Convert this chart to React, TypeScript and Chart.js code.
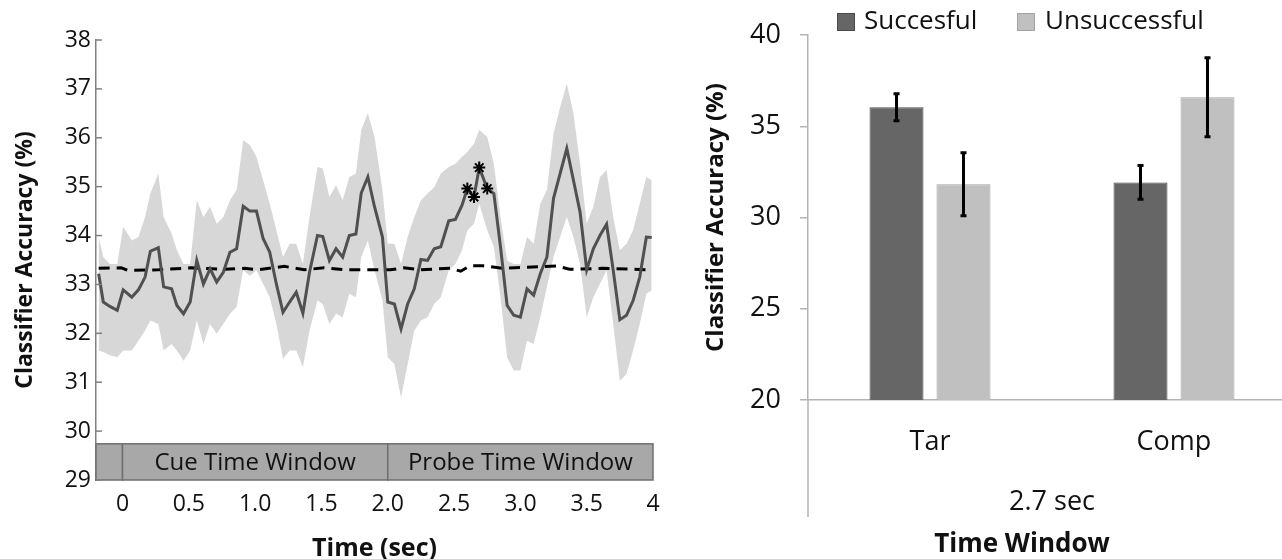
import React, { useEffect, useRef } from 'react';
import { Chart, registerables } from 'chart.js';

Chart.register(...registerables);

const FONT = '"Open Sans", "DejaVu Sans", sans-serif';

// ---------- Left panel: classifier accuracy over time ----------
const times = [
  -0.18, -0.145, -0.095, -0.04, 0.005, 0.07, 0.12, 0.17, 0.21, 0.27,
  0.31, 0.37, 0.41, 0.46, 0.51, 0.56, 0.61, 0.66, 0.71, 0.76,
  0.81, 0.86, 0.91, 0.96, 1.01, 1.06, 1.11, 1.16, 1.21, 1.26,
  1.31, 1.36, 1.41, 1.47, 1.51, 1.56, 1.61, 1.66, 1.71, 1.76,
  1.8, 1.85, 1.9, 1.96, 2.0, 2.05, 2.1, 2.15, 2.2, 2.25,
  2.3, 2.35, 2.4, 2.46, 2.51, 2.56, 2.6, 2.65, 2.69, 2.75,
  2.8, 2.85, 2.9, 2.95, 3.0, 3.05, 3.1, 3.15, 3.2, 3.25,
  3.3, 3.35, 3.4, 3.45, 3.5, 3.55, 3.6, 3.65, 3.7, 3.75,
  3.8, 3.85, 3.9, 3.95, 3.99,
];

const accuracy = [
  33.22, 32.64, 32.55, 32.47, 32.89, 32.74, 32.89, 33.15, 33.68, 33.75,
  32.95, 32.91, 32.57, 32.4, 32.64, 33.49, 33.01, 33.32, 33.05, 33.25,
  33.66, 33.73, 34.6, 34.5, 34.5, 33.94, 33.66, 33.01, 32.43, 32.64,
  32.84, 32.41, 33.25, 34.0, 33.98, 33.49, 33.73, 33.56, 34.0, 34.03,
  34.87, 35.2, 34.59, 33.97, 32.64, 32.6, 32.09, 32.6, 32.91, 33.51,
  33.49, 33.73, 33.77, 34.3, 34.33, 34.62, 34.96, 34.79, 35.39, 34.96,
  34.86, 33.77, 32.57, 32.37, 32.33, 32.91, 32.78, 33.22, 33.56, 34.76,
  35.27, 35.78, 35.13, 34.48, 33.3, 33.73, 34.0, 34.23, 33.29, 32.28,
  32.37, 32.67, 33.15, 33.97, 33.96,
];

const upperBound = [
  33.97, 33.56, 33.42, 33.42, 34.18, 33.9, 33.97, 34.38, 34.86, 35.27,
  34.38, 34.04, 33.7, 33.42, 33.42, 34.72, 34.38, 34.59, 34.24, 34.38,
  34.72, 34.93, 35.95, 35.85, 35.61, 35.13, 34.65, 34.11, 33.56, 33.83,
  33.83, 33.42, 34.38, 35.4, 35.37, 34.79, 35.03, 34.72, 35.2, 35.27,
  36.16, 36.5, 36.02, 34.93, 33.83, 33.83, 33.42, 33.97, 34.38, 34.72,
  34.86, 34.99, 35.27, 35.4, 35.47, 35.61, 35.71, 35.88, 36.16, 36.02,
  35.47, 34.38, 33.49, 33.42, 33.42, 33.97, 33.83, 34.65, 34.93, 36.09,
  36.63, 37.11, 36.5, 35.47, 34.24, 34.59, 35.2, 35.34, 34.38, 33.7,
  33.83, 34.11, 34.65, 35.2, 35.13,
];

const lowerBound = [
  31.65, 31.62, 31.55, 31.51, 31.65, 31.65, 31.85, 32.06, 32.26, 32.19,
  31.65, 31.78, 31.65, 31.44, 31.65, 32.26, 31.78, 32.19, 31.99, 32.19,
  32.4, 32.54, 33.29, 33.18, 33.29, 33.01, 32.74, 32.19, 31.48, 31.65,
  31.65, 31.31, 32.06, 32.67, 32.6, 32.19, 32.4, 32.33, 32.81, 32.74,
  33.56, 33.9, 33.29, 32.67, 31.51, 31.37, 30.69, 31.37, 32.06, 32.26,
  32.33, 32.6, 32.74, 33.29, 33.42, 33.7, 34.11, 34.24, 34.65, 34.11,
  33.77, 32.74, 31.51, 31.24, 31.24, 31.85, 31.78, 32.33, 32.95, 33.56,
  33.97, 34.38, 33.97, 33.42, 32.33, 32.74, 33.01, 33.29, 32.19, 31.03,
  31.17, 31.65, 32.19, 32.81, 32.88,
];

const chanceTimes = [
  -0.18, -0.01, 0.04, 0.27, 0.52, 0.77, 0.92, 1.02, 1.22, 1.37, 1.52, 1.67,
  2.02, 2.12, 2.25, 2.47, 2.55, 2.62, 2.72, 2.87, 3.27, 3.37, 3.62, 3.97,
];
const chanceValues = [
  33.33, 33.34, 33.29, 33.3, 33.34, 33.31, 33.33, 33.3, 33.37, 33.3, 33.34, 33.3,
  33.3, 33.34, 33.3, 33.33, 33.27, 33.38, 33.38, 33.33, 33.38, 33.31, 33.33, 33.3,
];

// indices (into times/accuracy) of significant points, marked with asterisks
const significantIdx = [56, 57, 58, 59];

const xTickValues = [0, 0.5, 1, 1.5, 2, 2.5, 3, 3.5, 4];
const xTickLabels = ['0', '0.5', '1.0', '1.5', '2.0', '2.5', '3.0', '3.5', '4'];

const windowStarts = [-0.2, 0, 2];
const windowEnds = [0, 2, 4];
const windowLabels = ['', 'Cue Time Window', 'Probe Time Window'];
const windowBandTop = 29.74;

// ---------- Right panel: bar chart at 2.7 sec ----------
const categories = ['Tar', 'Comp'];
const groupLabel = '2.7 sec';
const successful = [36.05, 31.93];
const successfulErr = [0.74, 0.92];
const unsuccessful = [31.83, 36.6];
const unsuccessfulErr = [1.73, 2.17];
const seriesNames = ['Succesful', 'Unsuccessful'];

export default function App() {
  const leftRef = useRef<HTMLCanvasElement>(null);
  const rightRef = useRef<HTMLCanvasElement>(null);

  useEffect(() => {
    const windowBoxPlugin = {
      id: 'windowBox',
      beforeDatasetsDraw(chart: any) {
        const { ctx } = chart;
        const xs = chart.scales.x;
        const ys = chart.scales.y;
        const yTop = ys.getPixelForValue(windowBandTop);
        const yBot = ys.getPixelForValue(ys.min);
        ctx.save();
        for (let i = 0; i < windowStarts.length; i++) {
          const x0 = xs.getPixelForValue(windowStarts[i]);
          const x1 = xs.getPixelForValue(windowEnds[i]);
          ctx.fillStyle = '#a8a8a8';
          ctx.fillRect(x0, yTop, x1 - x0, yBot - yTop);
          ctx.strokeStyle = '#6f6f6f';
          ctx.lineWidth = 1.5;
          ctx.strokeRect(x0, yTop, x1 - x0, yBot - yTop);
          if (windowLabels[i]) {
            ctx.fillStyle = '#111';
            ctx.font = `24px ${FONT}`;
            ctx.textAlign = 'center';
            ctx.textBaseline = 'middle';
            ctx.fillText(windowLabels[i], (x0 + x1) / 2, (yTop + yBot) / 2 + 1);
          }
        }
        ctx.restore();
      },
      afterDraw(chart: any) {
        const { ctx } = chart;
        const ys = chart.scales.y;
        const left = chart.chartArea.left;
        ctx.save();
        ctx.strokeStyle = '#808080';
        ctx.lineWidth = 1.5;
        ys.ticks.forEach((t: any) => {
          const y = ys.getPixelForValue(t.value);
          ctx.beginPath();
          ctx.moveTo(left, y);
          ctx.lineTo(left + 6, y);
          ctx.stroke();
        });
        ctx.restore();
      },
    };

    const left = new Chart(leftRef.current!, {
      type: 'line',
      data: {
        datasets: [
          {
            label: 'significant',
            data: significantIdx.map((i) => ({ x: times[i], y: accuracy[i] })),
            showLine: false,
            pointStyle: 'star',
            pointRadius: 6,
            borderColor: '#000',
            backgroundColor: '#000',
            borderWidth: 2,
          },
          {
            label: 'accuracy',
            data: times.map((t, i) => ({ x: t, y: accuracy[i] })),
            borderColor: '#505050',
            borderWidth: 3,
            pointRadius: 0,
            tension: 0,
            fill: false,
          },
          {
            label: 'chance',
            data: chanceTimes.map((t, i) => ({ x: t, y: chanceValues[i] })),
            borderColor: '#000',
            borderWidth: 3,
            borderDash: [11, 7],
            pointRadius: 0,
            tension: 0,
            fill: false,
          },
          {
            label: 'upper',
            data: times.map((t, i) => ({ x: t, y: upperBound[i] })),
            borderWidth: 0,
            borderColor: 'rgba(0,0,0,0)',
            backgroundColor: '#d7d7d7',
            pointRadius: 0,
            tension: 0,
            fill: '+1',
          },
          {
            label: 'lower',
            data: times.map((t, i) => ({ x: t, y: lowerBound[i] })),
            borderWidth: 0,
            borderColor: 'rgba(0,0,0,0)',
            pointRadius: 0,
            tension: 0,
            fill: false,
          },
        ],
      },
      options: {
        responsive: false,
        animation: false,
        layout: { padding: { left: 0, right: 37, top: 40, bottom: 0 } },
        plugins: { legend: { display: false }, tooltip: { enabled: false } },
        scales: {
          x: {
            type: 'linear',
            min: -0.2,
            max: 4,
            afterBuildTicks: (s: any) => {
              s.ticks = xTickValues.map((v) => ({ value: v }));
            },
            afterFit: (s: any) => {
              s.height = 79;
            },
            ticks: {
              autoSkip: false,
              maxRotation: 0,
              padding: 11,
              color: '#111',
              font: { family: FONT, size: 23 },
              callback: (_v: any, i: number) => xTickLabels[i],
            },
            grid: { display: false, drawTicks: false },
            border: { display: false },
            title: {
              display: true,
              text: 'Time (sec)',
              color: '#111',
              font: { family: FONT, size: 25, weight: 'bold' },
              padding: { top: 0, bottom: -5 },
            },
          },
          y: {
            min: 29,
            max: 38,
            afterFit: (s: any) => {
              s.width = 96;
            },
            ticks: {
              stepSize: 1,
              padding: 5,
              color: '#111',
              font: { family: FONT, size: 23 },
            },
            grid: { display: false, drawTicks: false },
            border: { display: true, color: '#808080', width: 1.5 },
            title: {
              display: true,
              text: 'Classifier Accuracy (%)',
              color: '#111',
              font: { family: FONT, size: 23, weight: 'bold' },
              padding: { top: 12, bottom: 0 },
            },
          },
        },
      },
      plugins: [windowBoxPlugin],
    } as any);

    const errs = [successfulErr, unsuccessfulErr];
    const rightExtrasPlugin = {
      id: 'rightExtras',
      afterDatasetsDraw(chart: any) {
        const { ctx } = chart;
        const ys = chart.scales.y;
        ctx.save();
        ctx.strokeStyle = '#000';
        ctx.lineWidth = 3;
        chart.data.datasets.forEach((ds: any, di: number) => {
          const meta = chart.getDatasetMeta(di);
          meta.data.forEach((bar: any, i: number) => {
            const v = ds.data[i];
            const e = errs[di][i];
            const yt = ys.getPixelForValue(v + e);
            const yb = ys.getPixelForValue(v - e);
            ctx.beginPath();
            ctx.moveTo(bar.x, yt);
            ctx.lineTo(bar.x, yb);
            ctx.moveTo(bar.x - 3, yt);
            ctx.lineTo(bar.x + 3, yt);
            ctx.moveTo(bar.x - 3, yb);
            ctx.lineTo(bar.x + 3, yb);
            ctx.stroke();
          });
        });
        ctx.restore();
      },
      afterDraw(chart: any) {
        const { ctx, chartArea } = chart;
        const xs = chart.scales.x;
        ctx.save();
        // vertical axis continues below the category axis
        ctx.strokeStyle = '#b4b4b4';
        ctx.lineWidth = 1.5;
        ctx.beginPath();
        ctx.moveTo(chartArea.left, chartArea.bottom);
        ctx.lineTo(chartArea.left, chartArea.bottom + 117);
        ctx.stroke();
        // group label
        const cx = (xs.getPixelForValue(0) + xs.getPixelForValue(categories.length - 1)) / 2;
        ctx.fillStyle = '#111';
        ctx.font = `27px ${FONT}`;
        ctx.textAlign = 'center';
        ctx.textBaseline = 'middle';
        ctx.fillText(groupLabel, cx, chartArea.bottom + 102);
        // axis title
        ctx.font = `bold 26px ${FONT}`;
        ctx.fillText('Time Window', chartArea.left + 214, chartArea.bottom + 145);
        // legend
        const boxX = [147, 327];
        const textX = [174, 355];
        chart.data.datasets.forEach((ds: any, di: number) => {
          ctx.fillStyle = ds.backgroundColor;
          ctx.fillRect(boxX[di], 13, 18, 18);
          ctx.strokeStyle = ds.borderColor;
          ctx.lineWidth = 1;
          ctx.strokeRect(boxX[di] + 0.5, 13.5, 17, 17);
          ctx.fillStyle = '#111';
          ctx.font = `26px ${FONT}`;
          ctx.textAlign = 'left';
          ctx.textBaseline = 'middle';
          ctx.fillText(ds.label, textX[di], 22);
        });
        ctx.restore();
      },
    };

    const right = new Chart(rightRef.current!, {
      type: 'bar',
      data: {
        labels: categories,
        datasets: [
          {
            label: seriesNames[0],
            data: successful,
            backgroundColor: '#666666',
            borderColor: '#4a4a4a',
            borderWidth: 1,
            categoryPercentage: 0.549,
            barPercentage: 0.806,
          },
          {
            label: seriesNames[1],
            data: unsuccessful,
            backgroundColor: '#c0c0c0',
            borderColor: '#a2a2a2',
            borderWidth: 1,
            categoryPercentage: 0.549,
            barPercentage: 0.806,
          },
        ],
      },
      options: {
        responsive: false,
        animation: false,
        layout: { padding: { left: 0, right: 34, top: 20, bottom: 0 } },
        plugins: { legend: { display: false }, tooltip: { enabled: false } },
        scales: {
          x: {
            afterFit: (s: any) => {
              s.height = 159;
            },
            ticks: {
              padding: 26,
              color: '#111',
              font: { family: FONT, size: 27 },
            },
            grid: { display: false, drawTicks: false },
            border: { display: true, color: '#b4b4b4', width: 1.5 },
          },
          y: {
            min: 20,
            max: 40,
            afterFit: (s: any) => {
              s.width = 118;
            },
            ticks: {
              stepSize: 5,
              padding: 19,
              color: '#111',
              font: { family: FONT, size: 27 },
            },
            grid: {
              display: true,
              drawOnChartArea: false,
              drawTicks: true,
              tickLength: 8,
              color: '#b4b4b4',
              lineWidth: 1.5,
            },
            border: { display: true, color: '#b4b4b4', width: 1.5 },
            title: {
              display: true,
              text: 'Classifier Accuracy (%)',
              color: '#111',
              font: { family: FONT, size: 24, weight: 'bold' },
              padding: { top: 12, bottom: 0 },
            },
          },
        },
      },
      plugins: [rightExtrasPlugin],
    } as any);

    return () => {
      left.destroy();
      right.destroy();
    };
  }, []);

  return (
    <div
      style={{
        position: 'fixed',
        left: 0,
        top: 0,
        width: 1282,
        height: 559,
        overflow: 'hidden',
        background: '#fff',
      }}
    >
      <canvas
        ref={leftRef}
        width={690}
        height={559}
        style={{ position: 'absolute', left: 0, top: 0, width: 690, height: 559 }}
      />
      <canvas
        ref={rightRef}
        width={640}
        height={559}
        style={{ position: 'absolute', left: 690, top: 0, width: 640, height: 559 }}
      />
    </div>
  );
}
